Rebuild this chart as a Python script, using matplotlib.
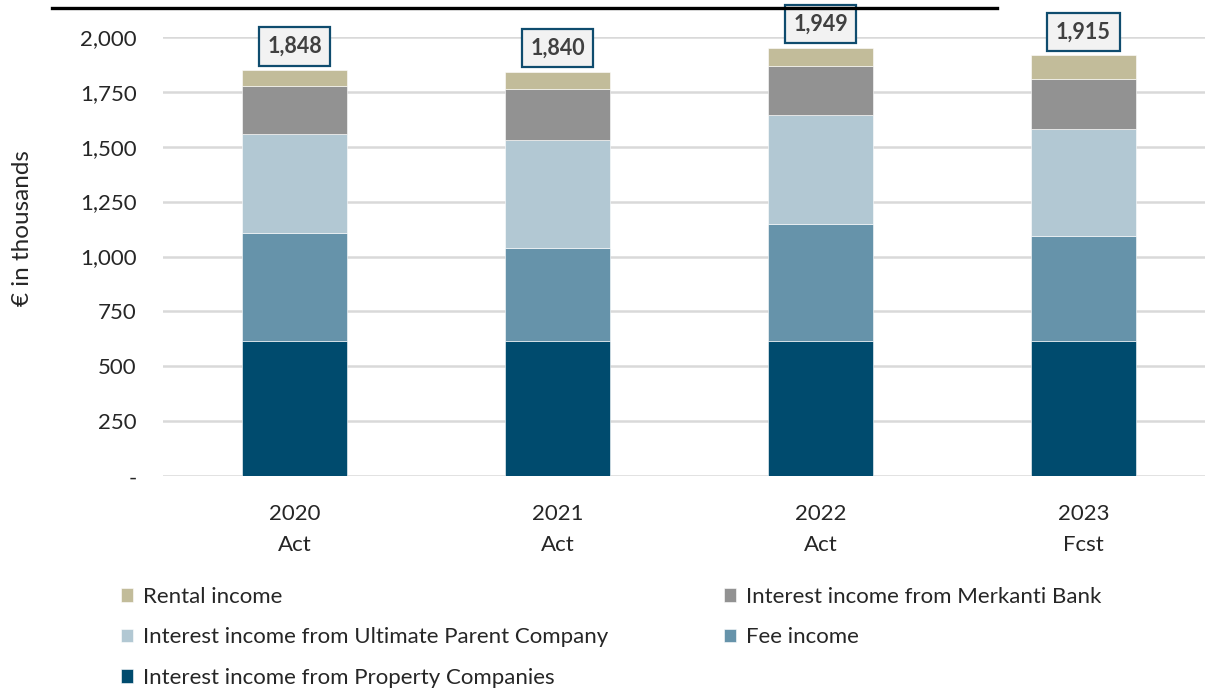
import numpy as np
import matplotlib.pyplot as plt
from matplotlib.lines import Line2D
from matplotlib.ticker import FuncFormatter

plt.rcParams['font.family'] = ['Lato', 'DejaVu Sans']

years = ['2020\nAct', '2021\nAct', '2022\nAct', '2023\nFcst']
totals = [1848, 1840, 1949, 1915]

# income components, € thousands (stacked bottom to top)
property_cos = [615, 615, 615, 615]
fee_income = [490, 424, 535, 477]
parent_co = [454, 490, 492, 490]
merkanti = [215, 233, 226, 227]
rental = [t - p - f - u - m for t, p, f, u, m in
          zip(totals, property_cos, fee_income, parent_co, merkanti)]

series = [
    ('Interest income from Property Companies', property_cos, '#004B6E'),
    ('Fee income', fee_income, '#6693AA'),
    ('Interest income from Ultimate Parent Company', parent_co, '#B2C8D3'),
    ('Interest income from Merkanti Bank', merkanti, '#929292'),
    ('Rental income', rental, '#C2BC9A'),
]

fig = plt.figure(figsize=(12.05, 6.89), dpi=100)
ax = fig.add_axes([163 / 1205, 1 - 476.3 / 689, 1042 / 1205, 439.6 / 689])

x = np.arange(len(years))
bottom = np.zeros(len(years))
bars = {}
for name, vals, col in series:
    bars[name] = ax.bar(x, vals, 0.4, bottom=bottom, color=col, label=name,
                        edgecolor='white', linewidth=0.4, zorder=3)
    bottom += np.array(vals)

# total labels in boxes above each stack
for xi, tot in zip(x, totals):
    ax.annotate(f'{tot:,}', (xi, tot), xytext=(0, 17), textcoords='offset points',
                ha='center', va='center', fontsize=15.5, fontweight='bold',
                color='#404040', annotation_clip=False,
                bbox=dict(boxstyle='square,pad=0.4', fc='#F2F2F2', ec='#0F4C6E', lw=1.6))

ax.set_ylim(0, 2000)
ax.set_xlim(-0.5, 3.5 - 10 / 263)
ax.set_yticks(np.arange(0, 2001, 250))
ax.yaxis.set_major_formatter(FuncFormatter(lambda v, p: '-' if v == 0 else f'{v:,.0f}'))
ax.set_xticks(x)
ax.set_xticklabels(years, linespacing=1.7)
ax.tick_params(axis='y', length=0, pad=19, labelsize=16, labelcolor='#262626')
ax.tick_params(axis='x', length=0, pad=20, labelsize=16, labelcolor='#262626')
ax.grid(axis='y', color='#D9D9D9', linewidth=1.8, zorder=0)
for s in ax.spines.values():
    s.set_visible(False)

ax.set_ylabel('€ in thousands', fontsize=17.5, color='#262626')
ax.yaxis.set_label_coords(-0.1248, 0.565)

# legend laid out row by row
order = ['Rental income', 'Interest income from Ultimate Parent Company',
         'Interest income from Property Companies',
         'Interest income from Merkanti Bank', 'Fee income']
fig.legend([bars[n] for n in order], order, ncol=2, loc='upper left',
           bbox_to_anchor=(101 / 1205, 1 - 567 / 689), frameon=False,
           fontsize=16, handlelength=0.55, handleheight=0.55, handletextpad=0.45,
           columnspacing=5.2, labelspacing=0.92, labelcolor='#262626')

fig.add_artist(Line2D([52 / 1205, 997 / 1205], [1 - 7.5 / 689] * 2,
                      transform=fig.transFigure, color='black', linewidth=2.4))

fig.savefig('out.png', dpi=100)
